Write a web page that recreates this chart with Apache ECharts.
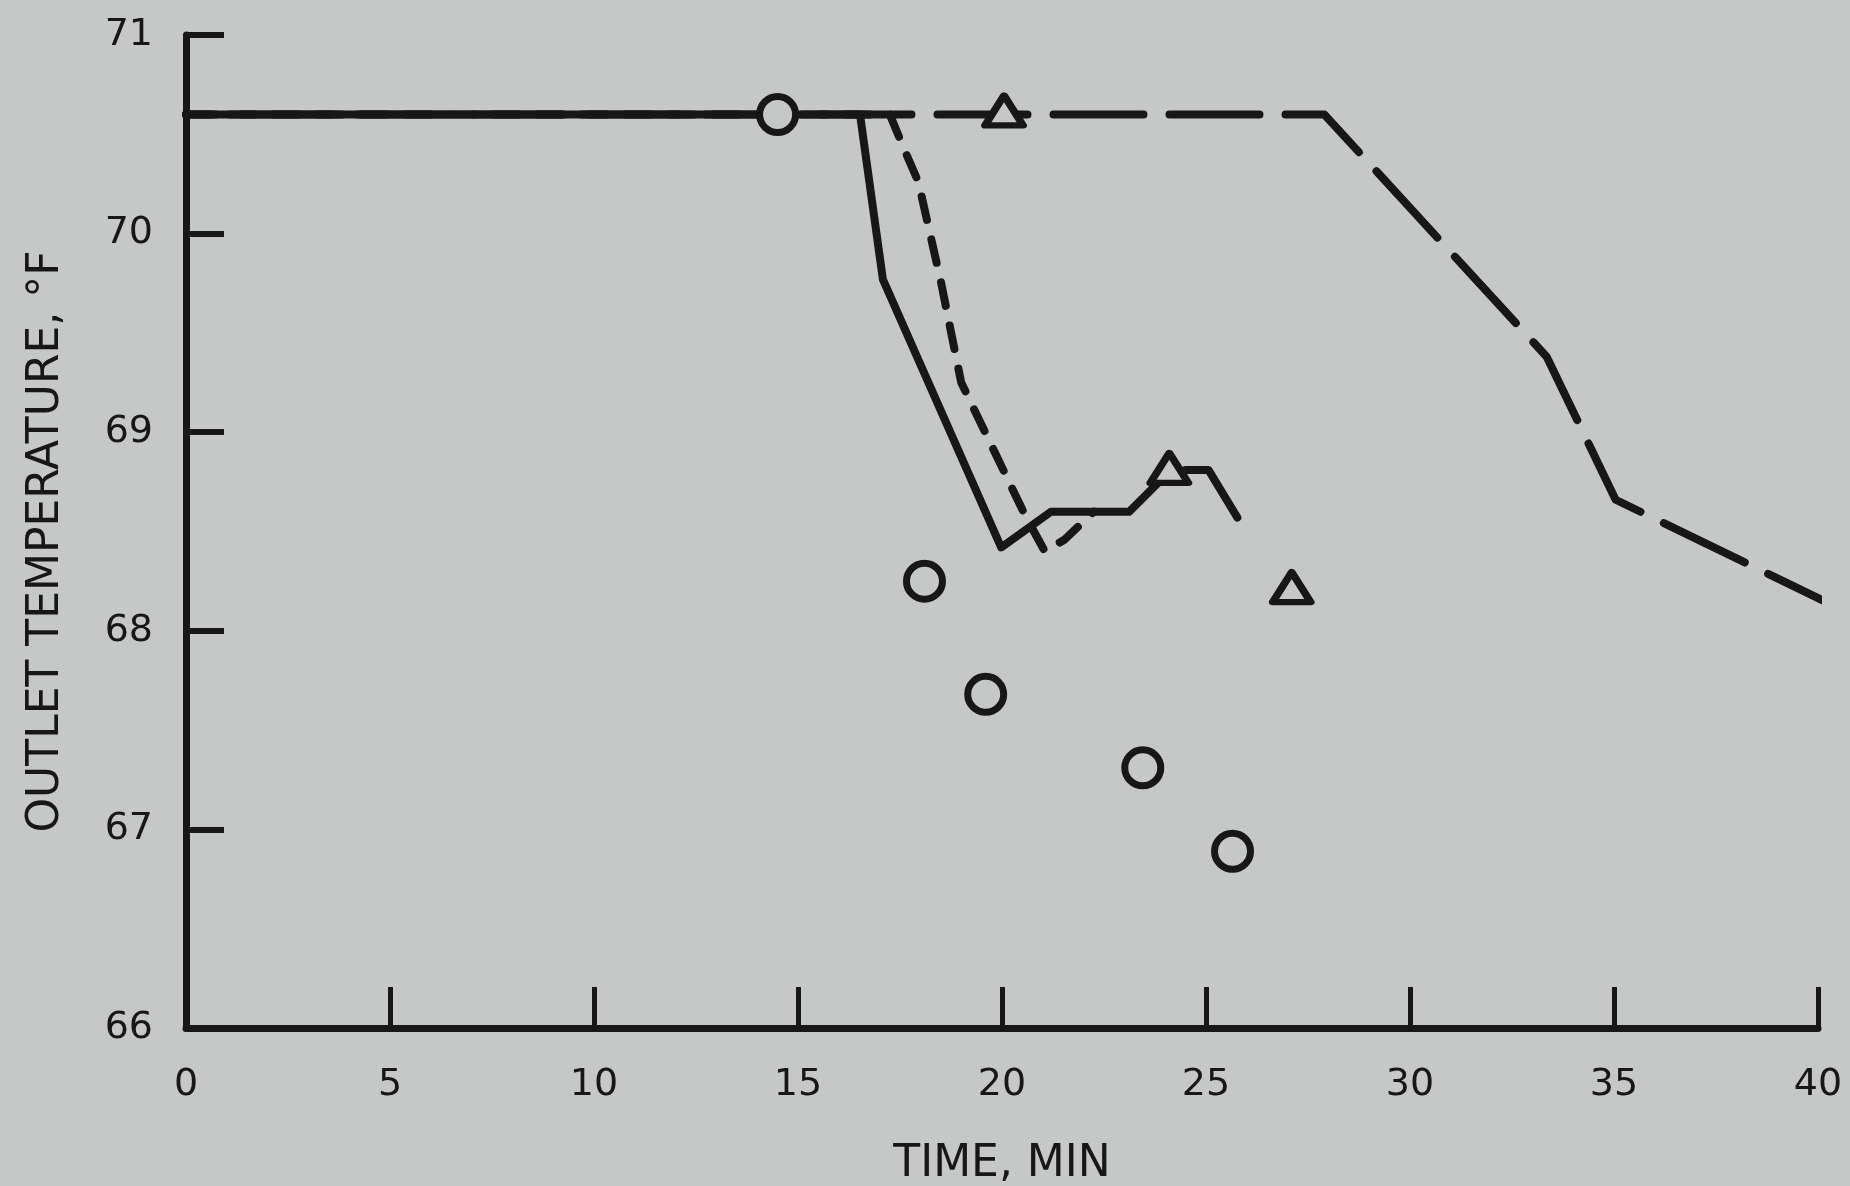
<!DOCTYPE html>
<html>
<head>
<meta charset="utf-8">
<script src="https://cdn.jsdelivr.net/npm/echarts@6/dist/echarts.min.js"></script>
<style>
html,body{margin:0;padding:0;background:#c6c8c7;}
#chart{width:1850px;height:1186px;}
</style>
</head>
<body>
<div id="chart"></div>
<script>
// Axis ticks and titles
const xTickValues = [0, 5, 10, 15, 20, 25, 30, 35, 40];
const yTickValues = [66, 67, 68, 69, 70, 71];
const xAxisTitle = 'TIME, MIN';
const yAxisTitle = 'OUTLET TEMPERATURE, \u00B0F';

// Solid curve
const solidTime = [0, 16.52, 17.08, 19.98, 21.2, 23.12, 23.85, 24.5, 25.06, 25.77];
const solidTemp = [70.6, 70.6, 69.77, 68.42, 68.6, 68.6, 68.75, 68.81, 68.81, 68.57];

// Short-dashed curve
const shortDashTime = [0, 17.25, 17.55, 17.95, 18.5, 19.0, 20.57, 21.05, 21.54, 22.25];
const shortDashTemp = [70.6, 70.6, 70.45, 70.26, 69.76, 69.25, 68.58, 68.40, 68.46, 68.6];

// Long-dashed curve
const longDashTime = [0, 27.9, 33.35, 35.04, 40.65];
const longDashTemp = [70.6, 70.6, 69.38, 68.66, 68.1];

// Circle data points
const circleTime = [14.5, 18.1, 19.6, 23.45, 25.65];
const circleTemp = [70.6, 68.25, 67.68, 67.31, 66.89];

// Triangle data points
const triangleTime = [20.05, 24.1, 27.1];
const triangleTemp = [70.62, 68.82, 68.22];

const INK = '#171717';
const BG = '#c6c8c7';
const FONT = 'DejaVu Sans';

function pairs(xs, ys) { return xs.map((x, i) => [x, ys[i]]); }

const chart = echarts.init(document.getElementById('chart'), null, {renderer: 'canvas'});

const lineBase = {
  type: 'line',
  symbol: 'none',
  clip: false,
  silent: true,
  z: 2
};

chart.setOption({
  backgroundColor: BG,
  animation: false,
  grid: {left: 186, right: 32, top: 35, bottom: 158, containLabel: false, outerBoundsMode: 'none'},
  xAxis: {
    type: 'value',
    min: xTickValues[0],
    max: xTickValues[xTickValues.length - 1],
    interval: xTickValues[1] - xTickValues[0],
    axisLine: {show: true, onZero: false, lineStyle: {color: INK, width: 7}},
    axisTick: {show: true, inside: true, length: 41, lineStyle: {color: INK, width: 5}},
    axisLabel: {margin: 38, fontSize: 38, fontFamily: FONT, color: INK},
    splitLine: {show: false},
    name: xAxisTitle,
    nameLocation: 'middle',
    nameGap: 115,
    nameTextStyle: {fontSize: 44, fontFamily: FONT, color: INK}
  },
  yAxis: {
    type: 'value',
    min: yTickValues[0],
    max: yTickValues[yTickValues.length - 1],
    interval: yTickValues[1] - yTickValues[0],
    axisLine: {show: true, onZero: false, lineStyle: {color: INK, width: 7}},
    axisTick: {show: true, inside: true, length: 38, lineStyle: {color: INK, width: 6}},
    axisLabel: {margin: 33, fontSize: 38, fontFamily: FONT, color: INK},
    splitLine: {show: false},
    name: yAxisTitle,
    nameLocation: 'middle',
    nameGap: 117,
    nameTextStyle: {fontSize: 44, fontFamily: FONT, color: INK, padding: [0, 20, 0, 0]}
  },
  series: [
    Object.assign({}, lineBase, {
      name: 'long dash',
      data: pairs(longDashTime, longDashTemp),
      lineStyle: {color: INK, width: 8, type: [90, 26], dashOffset: 60.5, cap: 'round', join: 'round'}
    }),
    Object.assign({}, lineBase, {
      name: 'short dash',
      data: pairs(shortDashTime, shortDashTemp),
      lineStyle: {color: INK, width: 8, type: [24, 20], dashOffset: 0, cap: 'round', join: 'round'}
    }),
    Object.assign({}, lineBase, {
      name: 'solid',
      data: pairs(solidTime, solidTemp),
      lineStyle: {color: INK, width: 8, type: 'solid', cap: 'round', join: 'round'}
    }),
    {
      type: 'scatter',
      name: 'circles',
      data: pairs(circleTime, circleTemp),
      symbol: 'circle',
      symbolSize: 36,
      clip: false,
      silent: true,
      z: 5,
      itemStyle: {color: BG, borderColor: INK, borderWidth: 7, opacity: 1}
    },
    {
      type: 'scatter',
      name: 'triangles',
      data: pairs(triangleTime, triangleTemp),
      symbol: 'triangle',
      symbolSize: [38, 30],
      clip: false,
      silent: true,
      z: 5,
      itemStyle: {color: BG, borderColor: INK, borderWidth: 7, opacity: 1, borderJoin: 'round'}
    }
  ]
});
</script>
</body>
</html>
